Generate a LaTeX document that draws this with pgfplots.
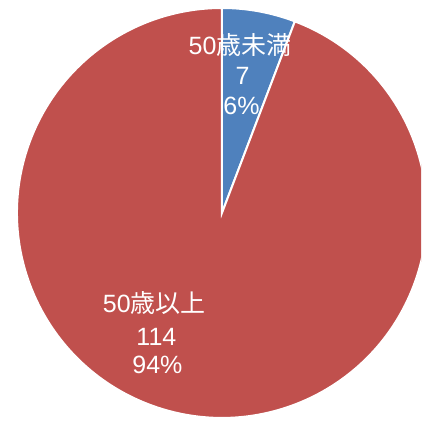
\documentclass[border=0pt]{standalone}
\usepackage{pgfplots}
\usepackage{pgfplotstable}
\pgfplotsset{compat=1.18}
\usepackage{fontspec}
\setmainfont{Liberation Sans}
\newfontfamily\cjk{Noto Sans CJK JP}

\definecolor{pieblue}{HTML}{4F81BD}
\definecolor{piered}{HTML}{C0504D}

% counts per group
\pgfplotstableread{
group count
under50 7
over50 114
}\piedata

\begin{document}
\begin{tikzpicture}
\pgfplotstablegetelem{0}{count}\of\piedata \let\va\pgfplotsretval
\pgfplotstablegetelem{1}{count}\of\piedata \let\vb\pgfplotsretval
\pgfmathsetmacro{\total}{\va+\vb}
\pgfmathsetmacro{\angA}{90-360*\va/\total}
\begin{axis}[
  width=421pt, height=422pt,
  scale only axis,
  hide axis,
  xmin=-1.083, xmax=0.971,
  ymin=-1.020, ymax=1.039,
  clip=true,
]
  % blue slice, clockwise from 12 o'clock
  \fill[pieblue, draw=white, line width=2pt]
    (axis cs:0,0) -- (axis cs:0,1) arc[start angle=90, end angle=\angA, radius=1] -- cycle;
  % red slice, the rest
  \fill[piered, draw=white, line width=2pt]
    (axis cs:0,0) -- (axis cs:{cos(\angA)},{sin(\angA)}) arc[start angle=\angA, end angle=-270, radius=1] -- cycle;

  \begin{scope}[every node/.style={text=white, font=\fontsize{25}{30}\selectfont, anchor=base, inner sep=0pt}]
    \node at (axis cs:0.088,0.771) {50{\cjk 歳未満}};
    \node at (axis cs:0.100,0.625) {\va};
    \node at (axis cs:0.095,0.478) {6\%};
    \node at (axis cs:-0.330,-0.488) {50{\cjk 歳以上}};
    \node at (axis cs:-0.320,-0.649) {\vb};
    \node at (axis cs:-0.315,-0.785) {94\%};
  \end{scope}
\end{axis}
\pgfresetboundingbox
\path (current axis.south west) rectangle (current axis.north east);
\end{tikzpicture}
\end{document}
